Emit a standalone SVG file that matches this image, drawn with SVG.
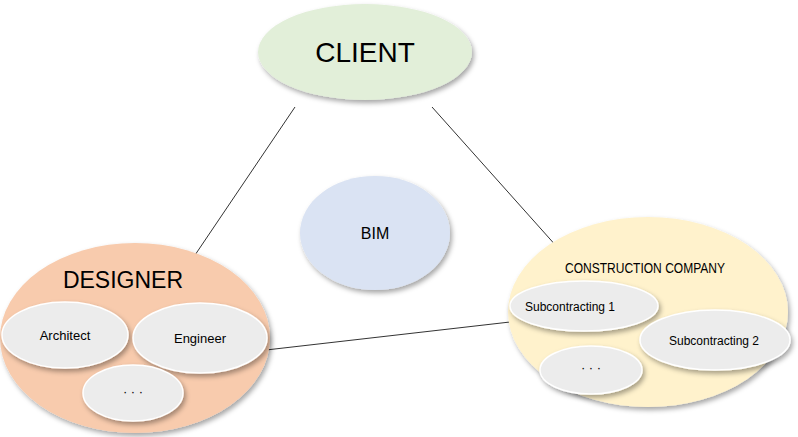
<svg xmlns="http://www.w3.org/2000/svg" width="798" height="437" viewBox="0 0 798 437">
<style>
.t{font-family:"Liberation Sans",Arial,sans-serif;fill:#000;text-anchor:middle}
.sub{fill:#ececec;stroke:#fff;stroke-width:1.5;filter:url(#sh)}
.big{filter:url(#sh)}
.c line{stroke:#333;stroke-width:1}
</style>
<defs>
<filter id="sh" x="-20%" y="-20%" width="140%" height="150%">
<feDropShadow dx="2" dy="3" stdDeviation="2.5" flood-color="#000" flood-opacity="0.35"/>
</filter>
</defs>
<rect width="798" height="437" fill="#fff"/>
<g class="c">
<line x1="295" y1="107" x2="193" y2="258"/>
<line x1="432" y1="107" x2="558" y2="248"/>
<line x1="266" y1="350" x2="510" y2="322"/>
</g>
<g id="client"><ellipse class="big" cx="365" cy="52" rx="107" ry="48" fill="#e2efd9"/><text class="t" x="365" y="62" font-size="28">CLIENT</text></g>
<g id="bim"><ellipse class="big" cx="375" cy="233" rx="75" ry="57" fill="#dae3f3"/><text class="t" x="375" y="239" font-size="16">BIM</text></g>
<g id="designer"><ellipse class="big" cx="135" cy="338" rx="135" ry="95" fill="#f8cbad"/><text class="t" x="123" y="288" font-size="23">DESIGNER</text></g>
<g id="architect"><ellipse class="sub" cx="65" cy="335" rx="63" ry="33"/><text class="t" x="65" y="340" font-size="13">Architect</text></g>
<g id="engineer"><ellipse class="sub" cx="200" cy="338" rx="67" ry="35"/><text class="t" x="200" y="343" font-size="13">Engineer</text></g>
<g id="designer-more"><ellipse class="sub" cx="133" cy="393" rx="50" ry="28"/><text class="t" x="133" y="396" font-size="13">· · ·</text></g>
<g id="construction"><ellipse class="big" cx="648" cy="312" rx="140" ry="95" fill="#fff2cc"/><text class="t" x="645" y="273" font-size="14" textLength="160" lengthAdjust="spacingAndGlyphs">CONSTRUCTION COMPANY</text></g>
<g id="sub1"><ellipse class="sub" cx="584" cy="306" rx="74" ry="25"/><text class="t" x="570" y="311" font-size="12">Subcontracting  1</text></g>
<g id="sub2"><ellipse class="sub" cx="715" cy="340" rx="75" ry="30"/><text class="t" x="714" y="345" font-size="12">Subcontracting  2</text></g>
<g id="construction-more"><ellipse class="sub" cx="591" cy="370" rx="51" ry="24"/><text class="t" x="591" y="372" font-size="13">· · ·</text></g>
</svg>
